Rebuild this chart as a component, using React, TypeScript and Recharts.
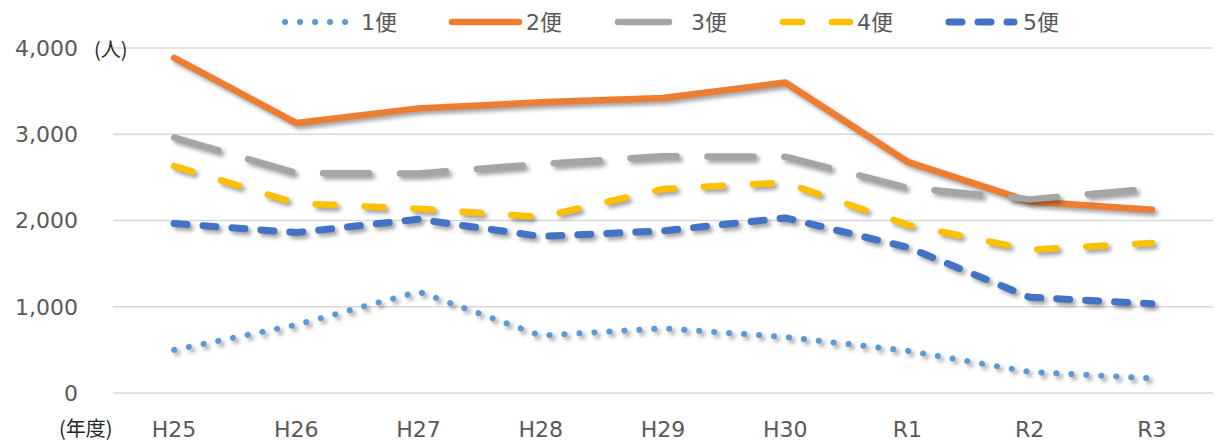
import React from 'react';
import { LineChart, Line, XAxis, YAxis, CartesianGrid, Legend } from 'recharts';

const categories = ['H25', 'H26', 'H27', 'H28', 'H29', 'H30', 'R1', 'R2', 'R3'];
const bin1 = [500, 790, 1175, 665, 750, 650, 490, 245, 170];
const bin2 = [3885, 3130, 3300, 3370, 3420, 3600, 2680, 2220, 2125];
const bin3 = [2960, 2550, 2545, 2655, 2745, 2740, 2380, 2245, 2370];
const bin4 = [2630, 2200, 2135, 2040, 2365, 2440, 1950, 1660, 1740];
const bin5 = [1965, 1860, 2015, 1815, 1880, 2030, 1690, 1110, 1035];
const seriesNames = ['1便', '2便', '3便', '4便', '5便'];
const yTicks = [0, 1000, 2000, 3000, 4000];
const edgeTicks = [0, 1, 2, 3, 4, 5, 6, 7, 8, 9];

const data = categories.map((c, i) => ({
  cat: c,
  s1: bin1[i],
  s2: bin2[i],
  s3: bin3[i],
  s4: bin4[i],
  s5: bin5[i],
}));

const styles = [
  { key: 's1', color: '#5b9bd5', dash: '0.1 14.9', width: 6 },
  { key: 's2', color: '#ed7d31', dash: undefined, width: 6.5 },
  { key: 's3', color: '#a5a5a5', dash: '46 31', width: 6.5 },
  { key: 's4', color: '#ffc000', dash: '19 30', width: 6.5 },
  { key: 's5', color: '#4472c4', dash: '13 16', width: 7 },
];

// legend layout: sample start, sample length, text x
const legendLayout = [
  { x: 285, len: 62, tx: 361 },
  { x: 452, len: 67, tx: 526 },
  { x: 618, len: 51, tx: 691 },
  { x: 783, len: 67, tx: 857 },
  { x: 949, len: 65, tx: 1023 },
];

const FONT = '"DejaVu Sans", Verdana, "Noto Sans CJK JP", sans-serif';

const LegendContent = () => (
  <svg width={1219} height={44} style={{ display: 'block' }}>
    {styles.map((s, i) => {
      const l = legendLayout[i];
      return (
        <g key={s.key}>
          <line
            x1={l.x}
            x2={l.x + l.len}
            y1={22}
            y2={22}
            stroke={s.color}
            strokeWidth={s.width}
            strokeLinecap="round"
            strokeDasharray={s.key === 's3' ? undefined : s.dash}
          />
          <text x={l.tx} y={30} fontSize={22} fill="#595959" fontFamily={FONT}>
            {seriesNames[i]}
          </text>
        </g>
      );
    })}
  </svg>
);

export default function App() {
  return (
    <div style={{ position: 'relative', width: 1219, height: 444, background: '#fff' }}>
      <style>{`body{margin:0} .recharts-line-curve{filter:drop-shadow(3px 3px 2px rgba(0,0,0,0.38));}`}</style>
      <LineChart
        width={1219}
        height={444}
        data={data}
        margin={{ top: 48, right: 6, left: 0, bottom: 0 }}
      >
        <CartesianGrid vertical={false} stroke="#d9d9d9" strokeWidth={1.5} />
        <XAxis
          xAxisId="edges"
          type="number"
          domain={[0, 9]}
          ticks={edgeTicks}
          tick={false}
          tickSize={8}
          height={0}
          tickLine={{ stroke: '#d9d9d9', strokeWidth: 1.5 }}
          axisLine={{ stroke: '#d9d9d9', strokeWidth: 1.5 }}
          allowDataOverflow
        />
        <XAxis
          dataKey="cat"
          scale="band"
          axisLine={false}
          tickLine={false}
          tickSize={0}
          tickMargin={28}
          height={51}
          interval={0}
          tick={{ fontSize: 22, fill: '#595959', fontFamily: FONT }}
        />
        <YAxis
          domain={[0, 4000]}
          ticks={yTicks}
          width={113}
          axisLine={false}
          tickLine={false}
          tickSize={0}
          tickMargin={35}
          tickFormatter={(v: number) => v.toLocaleString('en-US')}
          tick={{ fontSize: 22, fill: '#595959', fontFamily: FONT }}
        />
        <Legend
          verticalAlign="middle"
          layout="horizontal"
          content={<LegendContent />}
          wrapperStyle={{ top: 0, left: 0, width: 1219, height: 44 }}
        />
        {styles.map((s, i) => (
          <Line
            key={s.key}
            dataKey={s.key}
            name={seriesNames[i]}
            stroke={s.color}
            strokeWidth={s.width}
            strokeDasharray={s.dash}
            strokeLinecap="round"
            strokeLinejoin="round"
            dot={false}
            activeDot={false}
            type="linear"
            isAnimationActive={false}
          />
        ))}
      </LineChart>
      <div
        style={{
          position: 'absolute',
          left: 94,
          top: 35,
          fontSize: 20,
          color: '#262626',
          fontFamily: '"Noto Sans CJK JP", sans-serif',
          lineHeight: '28px',
        }}
      >
        (人)
      </div>
      <div
        style={{
          position: 'absolute',
          left: 59,
          top: 414,
          fontSize: 20,
          color: '#262626',
          fontFamily: '"Noto Sans CJK JP", sans-serif',
          lineHeight: '28px',
        }}
      >
        (年度)
      </div>
    </div>
  );
}
